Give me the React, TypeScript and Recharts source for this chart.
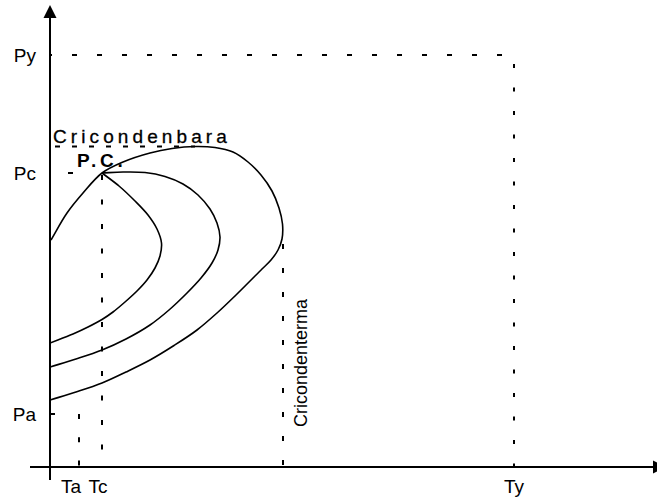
import React from 'react';
import { LineChart, Line, XAxis, YAxis, ReferenceLine, ReferenceDot } from 'recharts';

type Pt = { t: number; p: number };

// Axis ticks (temperature T, pressure P)
const temperatureTicks = [5.8, 10.4, 92.8];
const temperatureLabels = ['Ta', 'Tc', 'Ty'];
const pressureTicks = [10.6, 58.8, 82.4];
const pressureLabels = ['Pa', 'Pc', 'Py'];

// Phase envelope (bubble + dew curve)
const envelope: Pt[] = [
  { t: 0.2, p: 45.4 }, { t: 3.4, p: 50.8 }, { t: 6.6, p: 54.8 }, { t: 10.4, p: 58.8 },
  { t: 14.6, p: 61.0 }, { t: 20.0, p: 62.8 }, { t: 24.4, p: 63.7 }, { t: 29.0, p: 64.1 },
  { t: 33.0, p: 63.9 }, { t: 36.6, p: 63.0 }, { t: 39.6, p: 61.0 }, { t: 42.2, p: 58.4 },
  { t: 44.4, p: 55.2 }, { t: 45.8, p: 51.8 }, { t: 46.5, p: 48.6 }, { t: 46.4, p: 45.6 },
  { t: 45.6, p: 43.4 }, { t: 44.2, p: 41.4 }, { t: 42.4, p: 39.6 }, { t: 37.2, p: 34.4 },
  { t: 33.4, p: 30.8 }, { t: 29.4, p: 27.4 }, { t: 24.8, p: 24.3 }, { t: 20.0, p: 21.4 },
  { t: 15.2, p: 19.0 }, { t: 10.4, p: 16.8 }, { t: 5.2, p: 15.0 }, { t: 0.0, p: 13.4 },
];

// Quality lines meeting at the critical point
const qualityOuter: Pt[] = [
  { t: 10.4, p: 58.8 }, { t: 14.6, p: 59.0 }, { t: 19.0, p: 58.9 }, { t: 23.0, p: 58.1 },
  { t: 26.6, p: 56.6 }, { t: 29.6, p: 54.4 }, { t: 32.0, p: 51.6 }, { t: 33.4, p: 48.8 },
  { t: 34.0, p: 46.0 }, { t: 33.6, p: 43.4 }, { t: 32.4, p: 40.8 }, { t: 30.2, p: 37.8 },
  { t: 27.4, p: 34.8 }, { t: 23.8, p: 31.4 }, { t: 20.0, p: 28.4 }, { t: 15.2, p: 25.6 },
  { t: 10.4, p: 23.4 }, { t: 5.2, p: 21.6 }, { t: 0.0, p: 20.0 },
];

const qualityInner: Pt[] = [
  { t: 10.4, p: 58.8 }, { t: 13.8, p: 56.2 }, { t: 17.0, p: 53.2 }, { t: 19.6, p: 50.4 },
  { t: 21.4, p: 47.6 }, { t: 22.3, p: 44.8 }, { t: 22.0, p: 42.2 }, { t: 21.0, p: 39.8 },
  { t: 19.4, p: 37.4 }, { t: 17.4, p: 35.2 }, { t: 15.0, p: 33.0 }, { t: 12.6, p: 31.0 },
  { t: 10.4, p: 29.5 }, { t: 7.6, p: 28.0 }, { t: 4.6, p: 26.6 }, { t: 0.0, p: 24.8 },
];

const critical = { t: 10.4, p: 58.8 };
const cricondenbar = { p: 64.1, tFrom: 1.0, tTo: 29.0 };
const cricondentherm = { t: 46.6, pFrom: 45.4 };

const FONT = 'Liberation Sans, Arial, sans-serif';

// Centripetal Catmull-Rom curve through every point (parametric, so x may turn back)
const smoothCurve = (context: any) => {
  let pts: number[][] = [];
  const d = (a: number[], b: number[]) => Math.hypot(a[0] - b[0], a[1] - b[1]) || 1e-6;
  return {
    areaStart() {},
    areaEnd() {},
    lineStart() {
      pts = [];
    },
    point(x: number, y: number) {
      pts.push([+x, +y]);
    },
    lineEnd() {
      if (!pts.length) return;
      context.moveTo(pts[0][0], pts[0][1]);
      for (let i = 0; i < pts.length - 1; i++) {
        const p1 = pts[i];
        const p2 = pts[i + 1];
        const p0 = pts[i - 1] || [2 * p1[0] - p2[0], 2 * p1[1] - p2[1]];
        const p3 = pts[i + 2] || [2 * p2[0] - p1[0], 2 * p2[1] - p1[1]];
        const d01 = d(p0, p1);
        const d12 = d(p1, p2);
        const d23 = d(p2, p3);
        const l01 = Math.sqrt(d01);
        const l12 = Math.sqrt(d12);
        const l23 = Math.sqrt(d23);
        const a = 2 * d01 + 3 * l01 * l12 + d12;
        const n = 3 * l01 * (l01 + l12);
        const b = 2 * d23 + 3 * l23 * l12 + d12;
        const m = 3 * l23 * (l23 + l12);
        const c1x = (p1[0] * a - p0[0] * d12 + p2[0] * d01) / n;
        const c1y = (p1[1] * a - p0[1] * d12 + p2[1] * d01) / n;
        const c2x = (p2[0] * b + p1[0] * d23 - p3[0] * d12) / m;
        const c2y = (p2[1] * b + p1[1] * d23 - p3[1] * d12) / m;
        context.bezierCurveTo(c1x, c1y, c2x, c2y, p2[0], p2[1]);
      }
    },
  };
};

const ArrowLine = (props: any) => {
  const { x1, y1, x2, y2 } = props;
  const dx = x2 - x1;
  const dy = y2 - y1;
  const len = Math.hypot(dx, dy) || 1;
  const ux = dx / len;
  const uy = dy / len;
  const head = 13;
  const half = 6.5;
  const bx = x2 - ux * head;
  const by = y2 - uy * head;
  return (
    <g>
      <line x1={x1} y1={y1} x2={bx} y2={by} stroke="#000" strokeWidth={2} />
      <polygon
        points={`${x2},${y2} ${bx - uy * half},${by + ux * half} ${bx + uy * half},${by - ux * half}`}
        fill="#000"
      />
    </g>
  );
};

const xLabelShift: Record<string, number> = { Ta: -8, Tc: -4, Ty: 0 };

const TempTick = (props: any) => {
  const { x, y, payload } = props;
  const label = temperatureLabels[temperatureTicks.indexOf(payload.value)];
  return (
    <text x={x + (xLabelShift[label] || 0)} y={y + 26} textAnchor="middle" fontSize={19} fontFamily={FONT} fill="#000">
      {label}
    </text>
  );
};

const PressTick = (props: any) => {
  const { x, y, payload } = props;
  const label = pressureLabels[pressureTicks.indexOf(payload.value)];
  return (
    <text x={x - 14} y={y + 7} textAnchor="end" fontSize={19} fontFamily={FONT} fill="#000">
      {label}
    </text>
  );
};

export default function App() {
  const [Ta, Tc, Ty] = temperatureTicks;
  const [Pa, Pc, Py] = pressureTicks;
  return (
    <div style={{ position: 'absolute', left: 0, top: 0, background: '#fff' }}>
      <LineChart width={657} height={499} margin={{ top: 12, right: 7, bottom: 0, left: 0 }}>
        <XAxis
          type="number"
          dataKey="t"
          domain={[0, 120]}
          ticks={temperatureTicks}
          interval={0}
          allowDataOverflow
          height={32}
          axisLine={false}
          tickLine={false}
          tickSize={0}
          tickMargin={0}
          tick={<TempTick />}
        />
        <YAxis
          type="number"
          dataKey="p"
          domain={[0, 91]}
          ticks={pressureTicks}
          interval={0}
          allowDataOverflow
          width={50}
          axisLine={false}
          tickLine={false}
          tickSize={0}
          tickMargin={0}
          tick={<PressTick />}
        />

        {/* guide lines */}
        <ReferenceLine
          segment={[{ x: 0, y: Py }, { x: Ty, y: Py }]}
          stroke="#000" strokeWidth={2} strokeDasharray="5 20" strokeDashoffset={3} ifOverflow="visible"
        />
        <ReferenceLine
          segment={[{ x: Ty, y: Py }, { x: Ty, y: 0 }]}
          stroke="#000" strokeWidth={2} strokeDasharray="4 19.5" strokeDashoffset={-9} ifOverflow="visible"
        />
        <ReferenceLine
          segment={[{ x: Tc, y: Pc }, { x: Tc, y: 0 }]}
          stroke="#000" strokeWidth={2} strokeDasharray="5 19.5" strokeDashoffset={-2} ifOverflow="visible"
        />
        <ReferenceLine
          segment={[{ x: Ta, y: Pa }, { x: Ta, y: 0 }]}
          stroke="#000" strokeWidth={2} strokeDasharray="5 18.3" ifOverflow="visible"
        />
        <ReferenceLine
          segment={[{ x: 3.6, y: Pc }, { x: Tc, y: Pc }]}
          stroke="#000" strokeWidth={2} strokeDasharray="5 40" ifOverflow="visible"
        />
        <ReferenceLine
          segment={[{ x: 0, y: Pa }, { x: 1, y: Pa }]}
          stroke="#000" strokeWidth={2} ifOverflow="visible"
        />
        <ReferenceLine
          segment={[{ x: cricondenbar.tFrom, y: cricondenbar.p }, { x: cricondenbar.tTo, y: cricondenbar.p }]}
          stroke="#000" strokeWidth={2} strokeDasharray="5 12" ifOverflow="visible"
        />
        <ReferenceLine
          segment={[{ x: cricondentherm.t, y: cricondentherm.pFrom }, { x: cricondentherm.t, y: 0 }]}
          stroke="#000" strokeWidth={2} strokeDasharray="5 19" strokeDashoffset={-4} ifOverflow="visible"
        />

        {/* curves */}
        <Line data={envelope} dataKey="p" type={smoothCurve as any} stroke="#000" strokeWidth={1.6} dot={false} isAnimationActive={false} />
        <Line data={qualityOuter} dataKey="p" type={smoothCurve as any} stroke="#000" strokeWidth={1.6} dot={false} isAnimationActive={false} />
        <Line data={qualityInner} dataKey="p" type={smoothCurve as any} stroke="#000" strokeWidth={1.6} dot={false} isAnimationActive={false} />

        {/* axes with arrows */}
        <ReferenceLine segment={[{ x: -4, y: 0 }, { x: 123.2, y: 0 }]} shape={ArrowLine} ifOverflow="visible" />
        <ReferenceLine segment={[{ x: 0, y: -2.6 }, { x: 0, y: 92.4 }]} shape={ArrowLine} ifOverflow="visible" />

        {/* annotations */}
        <ReferenceDot
          x={0.6} y={64.8} r={0} ifOverflow="visible"
          shape={(p: any) => (
            <text x={p.cx} y={p.cy} fontSize={19} letterSpacing={4.1} fontFamily={FONT} fill="#000" stroke="#000" strokeWidth={0.3}>
              Cricondenbara
            </text>
          )}
        />
        <ReferenceDot
          x={critical.t - 5} y={critical.p + 1.2} r={0} ifOverflow="visible"
          shape={(p: any) => (
            <text x={p.cx} y={p.cy} fontSize={19} fontWeight="bold" letterSpacing={3.8} fontFamily={FONT} fill="#000">
              P.C.
            </text>
          )}
        />
        <ReferenceDot
          x={51.4} y={20.8} r={0} ifOverflow="visible"
          shape={(p: any) => (
            <text
              x={p.cx} y={p.cy} fontSize={18} fontFamily={FONT} fill="#000" textAnchor="middle"
              transform={`rotate(-90 ${p.cx} ${p.cy})`}
            >
              Cricondenterma
            </text>
          )}
        />
      </LineChart>
    </div>
  );
}
